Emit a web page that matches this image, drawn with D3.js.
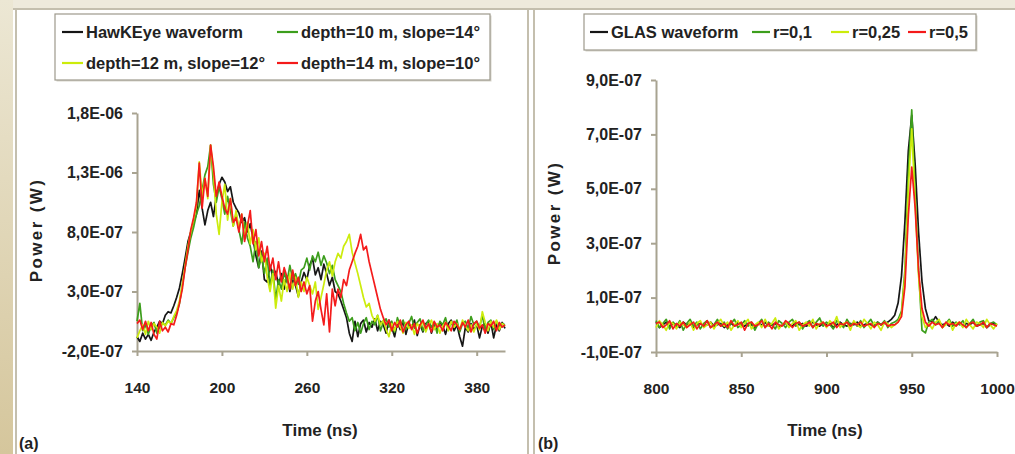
<!DOCTYPE html>
<html>
<head>
<meta charset="utf-8">
<script src="https://cdn.jsdelivr.net/npm/d3@7"></script>
<style>
  body { margin: 0; background: #fff; }
  svg { display: block; font-family: "Liberation Sans", Arial, sans-serif; font-weight: bold; }
  .tick text { fill: #222; }
</style>
</head>
<body>
<div id="chart"></div>
<script>
// ---- panel (a): HawkEye, values in 1e-7 W, one sample every 2 ns from 140 ns
const timeA = { start: 140, step: 2 };
const hawkeye = [
  -0.8, -1.2, -0.5, -1.0, -0.6, -1.1, -0.4, 0.0, 0.5, 0.3,
  1.0, 1.3, 1.2, 1.8, 2.5, 3.3, 4.5, 5.8, 7.2, 8.0,
  8.8, 9.5, 11.5, 10.0, 8.6, 9.8, 10.5, 9.3, 11.0, 12.0,
  12.6, 12.2, 11.4, 11.8, 10.5, 10.0, 9.6, 8.8, 9.2, 8.0,
  8.7, 7.4, 6.0, 5.0, 6.4, 4.0, 3.8, 5.2, 4.2, 4.7,
  3.5, 4.5, 3.2, 4.3, 3.0, 4.0, 3.5, 2.6, 3.8, 4.6,
  4.0, 5.2, 5.8, 4.4, 5.0, 4.0, 5.3, 4.5, 3.5, 4.2,
  3.0, 2.8, 2.2, 1.5, 0.8, -0.5, -1.2, 0.5, -0.8, 0.3,
  0.6, -0.4, 0.4, 0.0, 0.7, -0.3, 0.5, 0.2, -0.5, 0.6,
  0.0, -0.8, 0.4, -0.2, 0.5, -0.6, 0.3, -0.1, 0.6, -0.7,
  0.2, -0.4, 0.3, 0.5, -0.5, 0.2, -0.2, 0.4, 0.1, -0.6,
  0.3, 0.6, -0.3, 0.2, -0.8, -1.6, 0.0, -0.4, 0.3, -0.2,
  0.2, -0.9, 0.1, 0.3, -0.5, 0.4, -0.9, 0.2, -0.3, 0.4,
  -0.1
];
const depth10 = [
  0.5, 2.0, -0.3, 0.2, -0.6, 0.1, 0.4, -0.5, 0.0, 0.3,
  0.2, 0.6, 0.3, 0.8, 1.2, 2.0, 3.5, 5.0, 6.3, 7.5,
  8.4, 9.5, 10.2, 11.5, 12.8, 13.5, 15.3, 12.0, 10.5, 11.8,
  10.8, 9.5, 11.0, 9.8, 8.5, 9.5, 8.2, 7.0, 8.8, 7.5,
  6.8, 5.5, 7.2, 5.0, 6.0, 4.5, 5.8, 3.5, 4.8, 2.3,
  4.0, 3.2, 4.6, 3.8, 5.2, 4.0, 4.5, 3.6, 4.8, 5.0,
  5.8, 4.8, 6.0, 5.5, 6.3, 5.2, 6.0, 5.4, 4.5, 5.2,
  4.0, 3.5, 3.0, 2.0, 1.2, 0.5, 0.8, -0.3, 0.4, -0.5,
  0.3, 0.8, -0.2, 0.5, 0.2, 1.0, -0.3, 0.4, 0.7, 0.0,
  0.5, -0.4, 0.8, 0.1, 0.6, -0.2, 0.3, 0.9, -0.1, 0.4,
  0.7, -0.3, 0.2, 0.6, 0.0, 0.4, -0.5, 0.5, 0.2, 0.8,
  -0.2, 0.4, 0.1, 0.6, -0.4, 0.3, 0.5, -0.1, 0.9, 0.2,
  0.5, 0.0, 1.0, -0.3, 0.4, 0.6, -0.2, 0.5, 0.1, 0.3,
  0.2
];
const depth12 = [
  -0.9, -0.3, 0.2, -0.6, 0.5, -0.2, 0.3, 0.0, -0.5, 0.4,
  0.1, 0.5, 0.3, 0.9, 1.4, 2.2, 3.6, 5.2, 6.8, 8.0,
  9.0, 10.2, 13.9, 11.0, 12.5, 10.8, 15.3, 13.0, 9.5, 7.8,
  10.5, 12.0, 9.0, 10.8, 8.5, 9.8, 8.2, 9.5, 7.5, 8.8,
  7.0, 8.2, 6.5, 7.5, 5.5, 6.2, 4.2, 3.0, 4.5, 1.6,
  3.5, 2.2, 4.0, 3.0, 4.5, 3.2, 4.2, 2.5, 3.8, 3.0,
  4.2, 3.5, 2.8, 3.8, 1.5, 2.5, 3.6, 4.8, 5.5, 4.3,
  5.5, 6.2, 5.8, 6.8, 7.2, 7.8, 6.3, 5.4, 4.5, 3.5,
  2.5, 1.7, 2.0, 1.0, 0.5, 1.0, 0.2, 0.6, -0.2, -0.8,
  0.3, -0.3, 0.5, 0.0, -0.5, 0.4, -0.1, 0.2, -0.6, 0.3,
  0.0, 0.5, -0.4, 0.2, 0.6, -0.2, 0.3, -0.5, 0.1, 0.4,
  -0.3, 0.5, 0.0, 0.3, -0.2, 0.6, 0.1, -0.3, 0.2, -0.4,
  0.3, -0.2, 1.3, 0.4, -0.3, 0.5, 0.0, 0.6, -0.2, 0.3,
  0.1
];
const depth14 = [
  0.3, 0.6, -0.2, 0.5, -0.3, 0.4, -0.6, -1.0, 0.5, -0.3,
  0.0, -0.4, 0.3, 0.2, 1.0, 2.0, 3.2, 5.0, 6.5, 8.2,
  9.2, 10.5, 13.8, 10.0, 12.5, 11.0, 15.3, 13.5, 11.0, 12.2,
  11.0, 10.0, 9.5, 10.8, 8.8, 9.2, 8.0, 9.5, 7.2, 8.5,
  9.8, 7.0, 8.2, 6.0, 7.2, 5.5, 6.8, 4.8, 5.8, 4.0,
  5.5, 3.8, 5.0, 4.2, 3.2, 4.8, 3.5, 4.2, 3.0, 3.8,
  2.8, 3.5, 0.5, 2.2, 3.0, 1.5, 0.2, 2.8, -0.4, 3.2,
  1.8, 3.2, 2.5, 4.0, 3.5, 4.8, 5.5, 6.2, 6.8, 7.8,
  6.5, 6.8, 5.5, 4.5, 3.5, 2.5, 1.5, 0.8, 0.2, 0.6,
  -0.3, 0.4, 0.0, 0.6, -0.4, 0.2, 0.5, -0.2, 0.3, -0.5,
  0.2, 0.6, -0.1, 0.3, -0.4, 0.5, 0.0, 0.2, -0.3, 0.4,
  0.1, -0.3, 0.5, 0.2, -0.2, 0.4, 0.0, 0.6, -0.4, 0.3,
  0.5, -0.1, 0.2, -0.5, 0.3, 0.1, 0.5, -0.3, 0.4, 0.0,
  0.2
];
const seriesNamesA = ["HawKEye waveform", "depth=10 m, slope=14°", "depth=12 m, slope=12°", "depth=14 m, slope=10°"];
const xTicksA = [140, 200, 260, 320, 380];
const yTicksA = [-2, 3, 8, 13, 18];
const yTickLabelsA = ["-2,0E-07", "3,0E-07", "8,0E-07", "1,3E-06", "1,8E-06"];

// ---- panel (b): GLAS, values in 1e-7 W, one sample every 2 ns from 800 ns
const timeB = { start: 800, step: 2 };
const glas = [
  0.1, -0.1, 0.0, 0.1, -0.05, 0.05, 0.0, -0.1, 0.1, 0.0,
  0.05, -0.1, 0.0, 0.05, -0.05, 0.0, 0.1, -0.05, 0.0, 0.05,
  -0.1, 0.0, 0.05, -0.05, 0.1, 0.0, -0.05, 0.05, 0.0, -0.1,
  0.05, 0.0, 0.1, -0.05, 0.0, 0.05, -0.1, 0.0, 0.05, 0.0,
  -0.05, 0.1, 0.0, 0.05, -0.05, 0.0, 0.1, 0.0, -0.05, 0.05,
  0.0, 0.05, -0.1, 0.0, 0.1, 0.0, -0.05, 0.05, 0.0, 0.1,
  -0.05, 0.0, 0.05, 0.0, -0.05, 0.1, 0.0, 0.05, 0.1, 0.2,
  0.35, 0.8, 1.8, 3.8, 6.4, 7.7, 5.9, 3.4, 1.6, 0.6,
  0.15, 0.1, 0.3, 0.1, 0.0, 0.05, -0.05, 0.1, 0.0, 0.05,
  -0.05, 0.05, 0.0, 0.1, -0.05, 0.0, 0.05, -0.1, 0.0, 0.05,
  0.0
];
const r01 = [
  0.15, -0.1, 0.05, 0.2, -0.15, 0.1, -0.05, 0.15, -0.2, 0.05,
  0.2, -0.05, 0.1, -0.15, 0.05, 0.15, -0.1, 0.0, 0.2, -0.05,
  0.1, -0.15, 0.05, 0.2, -0.1, 0.0, 0.15, -0.05, 0.1, -0.2,
  0.05, 0.2, -0.1, 0.1, 0.0, -0.15, 0.15, 0.05, -0.1, 0.1,
  0.2, -0.05, 0.1, -0.15, 0.05, 0.15, -0.1, 0.1, 0.25, -0.05,
  0.1, 0.0, -0.15, 0.15, 0.05, -0.1, 0.2, 0.0, 0.1, -0.05,
  0.15, -0.1, 0.05, 0.2, -0.05, 0.1, 0.0, 0.15, -0.1, 0.05,
  0.1, 0.2, 0.5, 2.0, 5.6, 7.9, 4.8, 2.0, -0.2, -0.3,
  0.1, 0.2, 0.0, 0.15, -0.1, 0.05, 0.2, -0.05, 0.1, 0.0,
  0.15, -0.1, 0.05, 0.2, -0.05, 0.1, 0.15, -0.1, 0.05, 0.1,
  0.0
];
const r025 = [
  -0.1, 0.15, 0.0, -0.2, 0.1, 0.05, -0.15, 0.1, 0.0, -0.1,
  0.1, -0.2, 0.05, 0.15, -0.1, 0.0, 0.1, -0.15, 0.05, 0.2,
  -0.05, 0.1, -0.2, 0.0, 0.15, -0.1, 0.05, 0.2, -0.15, 0.0,
  0.1, -0.1, 0.2, -0.05, 0.05, 0.25, -0.15, 0.0, 0.1, -0.1,
  0.05, 0.15, -0.2, 0.0, 0.1, -0.05, 0.2, -0.15, 0.05, 0.1,
  -0.1, 0.15, 0.0, 0.3, -0.1, 0.05, 0.1, -0.2, 0.15, 0.0,
  -0.1, 0.2, 0.05, -0.15, 0.1, 0.0, -0.2, 0.1, 0.05, -0.1,
  0.0, 0.1, 0.4, 1.8, 5.0, 7.2, 4.5, 1.8, 0.3, -0.1,
  0.05, -0.15, 0.1, 0.2, -0.1, 0.0, 0.15, -0.2, 0.05, 0.1,
  -0.1, 0.2, 0.0, -0.15, 0.1, 0.05, -0.1, 0.2, 0.0, -0.15,
  0.05
];
const r05 = [
  0.05, 0.1, -0.1, 0.0, 0.15, -0.15, 0.05, -0.05, 0.1, -0.1,
  0.0, 0.1, -0.15, 0.05, -0.05, 0.15, -0.1, 0.0, 0.1, -0.05,
  0.05, -0.1, 0.15, -0.05, 0.0, 0.1, -0.2, 0.05, 0.1, -0.05,
  0.0, 0.15, -0.1, 0.05, -0.15, 0.1, 0.0, -0.05, 0.15, 0.05,
  -0.1, 0.05, 0.1, -0.05, 0.0, 0.1, -0.1, 0.05, 0.0, 0.1,
  -0.05, 0.0, 0.1, -0.1, 0.05, 0.0, 0.1, -0.05, 0.05, 0.0,
  0.1, -0.05, 0.0, 0.05, -0.1, 0.05, 0.0, 0.1, -0.05, 0.0,
  0.0, 0.1, 0.3, 1.4, 4.0, 5.8, 4.3, 2.0, 0.6, 0.1,
  -0.05, 0.1, 0.0, 0.05, -0.1, 0.1, 0.0, 0.05, -0.05, 0.1,
  0.0, -0.1, 0.05, 0.1, -0.05, 0.0, 0.1, -0.1, 0.05, 0.0,
  -0.05
];
const seriesNamesB = ["GLAS waveform", "r=0,1", "r=0,25", "r=0,5"];
const xTicksB = [800, 850, 900, 950, 1000];
const yTicksB = [-1, 1, 3, 5, 7, 9];
const yTickLabelsB = ["-1,0E-07", "1,0E-07", "3,0E-07", "5,0E-07", "7,0E-07", "9,0E-07"];

const colors = ["#151515", "#3c9e1c", "#ccec0a", "#f41a1a"];

// ---- page frame
const W = 1015, H = 454;
const svg = d3.select("#chart").append("svg")
  .attr("width", W).attr("height", H);

const defs = svg.append("defs");
const grad = defs.append("linearGradient").attr("id", "side")
  .attr("x1", 0).attr("y1", 0).attr("x2", 0).attr("y2", 1);
grad.append("stop").attr("offset", "0%").attr("stop-color", "#ece7d4");
grad.append("stop").attr("offset", "100%").attr("stop-color", "#d5c69c");
defs.append("filter").attr("id", "soft")
  .append("feGaussianBlur").attr("stdDeviation", 0.45);

svg.append("rect").attr("width", W).attr("height", H).attr("fill", "#fff");
svg.append("rect").attr("x", 0).attr("y", 0).attr("width", W).attr("height", 8).attr("fill", "#eeeadc");
svg.append("rect").attr("x", 0).attr("y", 0).attr("width", 13).attr("height", H).attr("fill", "url(#side)");

// panel borders
const frame = svg.append("g").attr("stroke", "#c4bfae").attr("fill", "none");
frame.append("line").attr("x1", 13).attr("x2", W).attr("y1", 9).attr("y2", 9).attr("stroke-width", 2);
frame.append("line").attr("x1", 16).attr("x2", 16).attr("y1", 9).attr("y2", H).attr("stroke-width", 2);
frame.append("line").attr("x1", 528).attr("x2", 528).attr("y1", 9).attr("y2", H).attr("stroke-width", 2);
frame.append("line").attr("x1", 534).attr("x2", 534).attr("y1", 9).attr("y2", H).attr("stroke-width", 2);

function drawPanel(p) {
  const x = d3.scaleLinear().domain(p.xDomain).range(p.xRange);
  const y = d3.scaleLinear().domain(p.yDomain).range(p.yRange);
  const g = svg.append("g");

  const xAxis = g.append("g")
    .attr("transform", `translate(0,${p.yRange[0]})`)
    .call(d3.axisBottom(x).tickValues(p.xTicks).tickSize(5).tickSizeOuter(0).tickPadding(26)
      .tickFormat(d3.format("d")));
  const yAxis = g.append("g")
    .attr("transform", `translate(${p.xRange[0]},0)`)
    .call(d3.axisLeft(y).tickValues(p.yTicks).tickSize(5).tickSizeOuter(0).tickPadding(9)
      .tickFormat((d, i) => p.yLabels[i]));
  [xAxis, yAxis].forEach(a => {
    a.select(".domain").attr("stroke", "#a8a391").attr("stroke-width", 2);
    a.selectAll(".tick line").attr("stroke", "#a8a391").attr("stroke-width", 2);
    a.selectAll(".tick text").attr("font-family", "Liberation Sans, Arial, sans-serif")
      .attr("font-weight", "bold");
  });
  xAxis.selectAll(".tick text").attr("font-size", 15.5);
  yAxis.selectAll(".tick text").attr("font-size", 16);

  const line = d3.line()
    .x((d, i) => x(p.time.start + i * p.time.step))
    .y(d => y(d));
  g.append("g").attr("filter", "url(#soft)")
    .selectAll("path").data(p.series).enter()
    .append("path")
    .attr("d", d => line(d))
    .attr("fill", "none")
    .attr("stroke", (d, i) => colors[i])
    .attr("stroke-width", 1.7)
    .attr("stroke-linejoin", "round");

  // axis titles
  g.append("text").attr("x", p.xTitleX).attr("y", 436)
    .attr("text-anchor", "middle").attr("font-size", 17).attr("fill", "#222")
    .text("Time (ns)");
  g.append("text")
    .attr("transform", `translate(${p.yTitleX},${p.yTitleY}) rotate(-90)`)
    .attr("text-anchor", "middle").attr("font-size", 17).attr("letter-spacing", 2.4).attr("fill", "#222")
    .text("Power (W)");
  g.append("text").attr("x", p.tagX).attr("y", 449)
    .attr("font-size", 16).attr("fill", "#222").text(p.tag);

  // legend
  const lg = g.append("g");
  lg.append("rect").attr("x", p.legend.x + 1.5).attr("y", p.legend.y + 1.5)
    .attr("width", p.legend.w).attr("height", p.legend.h)
    .attr("fill", "#d8d5cc");
  lg.append("rect").attr("x", p.legend.x).attr("y", p.legend.y)
    .attr("width", p.legend.w).attr("height", p.legend.h)
    .attr("fill", "#fff").attr("stroke", "#9d998c").attr("stroke-width", 1.2);
  const item = lg.selectAll(".item").data(p.names).enter()
    .append("g").attr("class", "item")
    .attr("transform", (d, i) => `translate(${p.legend.items[i][0]},${p.legend.items[i][1]})`);
  item.append("line").attr("x1", 0).attr("x2", p.legend.swatch).attr("y1", 0).attr("y2", 0)
    .attr("stroke", (d, i) => colors[i]).attr("stroke-width", 2.2);
  item.append("text").attr("x", p.legend.swatch + 3).attr("y", 6)
    .attr("font-size", 16.5).attr("fill", "#222").text(d => d);
}

drawPanel({
  series: [hawkeye, depth10, depth12, depth14], names: seriesNamesA, time: timeA,
  xDomain: [140, 400], xRange: [137, 505],
  yDomain: [-2, 18], yRange: [351, 113],
  xTicks: xTicksA, yTicks: yTicksA, yLabels: yTickLabelsA,
  xTitleX: 320, yTitleX: 42, yTitleY: 230, tagX: 19, tag: "(a)",
  legend: { x: 55, y: 14, w: 435, h: 66, swatch: 21,
    items: [[62, 32], [277, 32], [62, 63], [277, 63]] }
});

drawPanel({
  series: [glas, r01, r025, r05], names: seriesNamesB, time: timeB,
  xDomain: [800, 1000], xRange: [656, 997],
  yDomain: [-1, 9], yRange: [352, 80],
  xTicks: xTicksB, yTicks: yTicksB, yLabels: yTickLabelsB,
  xTitleX: 825, yTitleX: 560, yTitleY: 213, tagX: 538, tag: "(b)",
  legend: { x: 584, y: 14, w: 392, h: 36, swatch: 18,
    items: [[590, 32], [752, 32], [831, 32], [908, 32]] }
});
</script>
</body>
</html>
